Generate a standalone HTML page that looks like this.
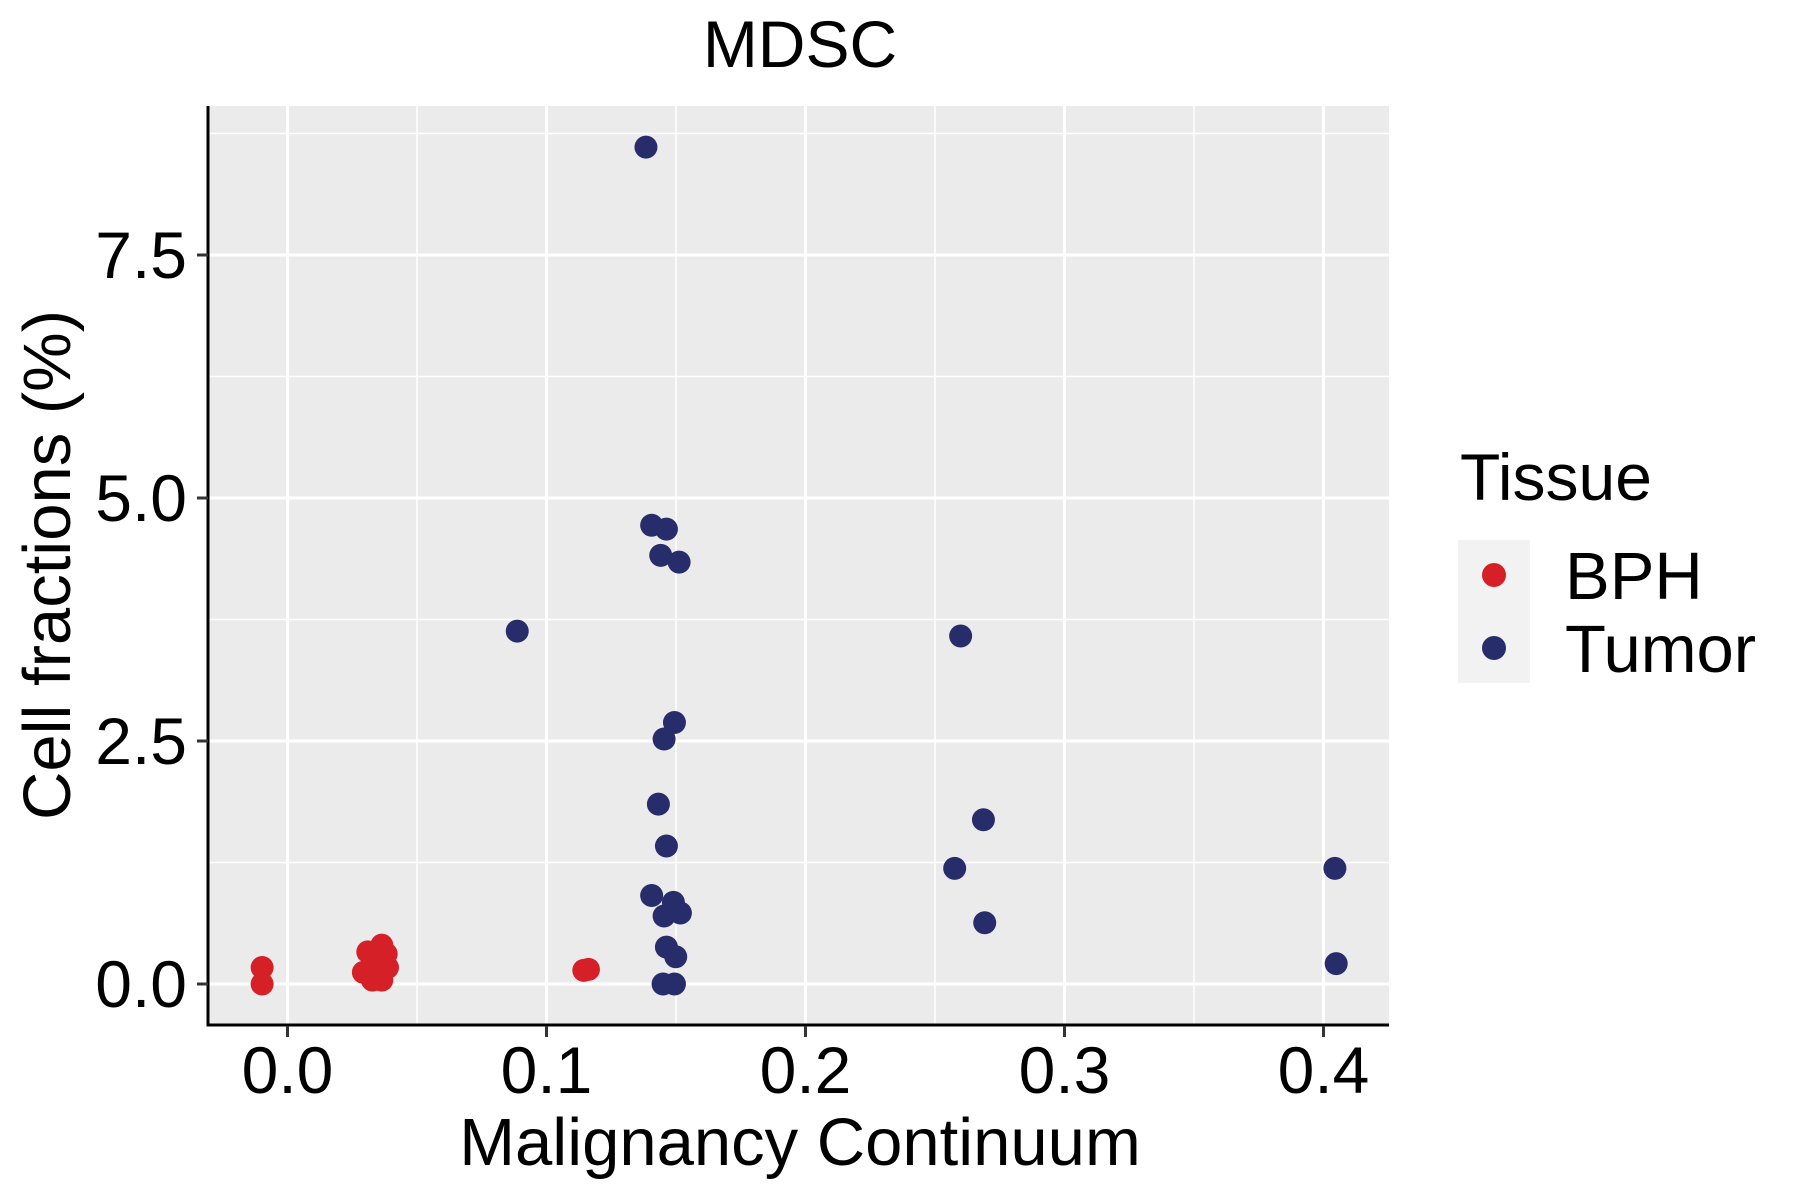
<!DOCTYPE html>
<html><head><meta charset="utf-8"><style>
html,body{margin:0;padding:0;background:#fff;}
svg{display:block;font-family:"Liberation Sans",sans-serif;}
</style></head><body>
<svg id="chart" width="1800" height="1200" viewBox="0 0 1800 1200">
<text x="800" y="67" font-size="66" text-anchor="middle">MDSC</text>
<rect x="208" y="106" width="1181" height="919" fill="#EBEBEB"/>
<g id="grid"></g>
<g id="points"></g>
<line x1="208" y1="106" x2="208" y2="1026" stroke="#000" stroke-width="3"/>
<line x1="206.5" y1="1025" x2="1389" y2="1025" stroke="#000" stroke-width="3"/>
<g id="ticks"></g>
<text x="800" y="1165" font-size="67" text-anchor="middle">Malignancy Continuum</text>
<text transform="translate(70,565) rotate(-90)" font-size="67" text-anchor="middle">Cell fractions (%)</text>
<g>
<text x="1460" y="500" font-size="66">Tissue</text>
<rect x="1458" y="540" width="72" height="143" fill="#F2F2F2"/>
<circle cx="1494" cy="575" r="12" fill="#D62027"/>
<circle cx="1494" cy="648" r="12" fill="#272D6B"/>
<text x="1565" y="599" font-size="67">BPH</text>
<text x="1565" y="672" font-size="67">Tumor</text>
</g>
</svg>
<script>
const xTicks = [0.0, 0.1, 0.2, 0.3, 0.4];
const xTickLabels = ["0.0", "0.1", "0.2", "0.3", "0.4"];
const yTicks = [0, 2.5, 5, 7.5];
const yTickLabels = ["0.0", "2.5", "5.0", "7.5"];
const bphX = [-0.0098, -0.0098, 0.031, 0.0364, 0.0381, 0.0293, 0.0386, 0.0328, 0.0364, 0.0346, 0.1144, 0.1162];
const bphY = [0.17, 0.0, 0.33, 0.40, 0.31, 0.12, 0.17, 0.04, 0.04, 0.24, 0.14, 0.15];
const tumorX = [0.1384, 0.1406, 0.1463, 0.1441, 0.1512, 0.0887, 0.2599, 0.1494, 0.1454, 0.1432, 0.2687, 0.1463, 0.2576, 0.4044, 0.1406, 0.1490, 0.1517, 0.1454, 0.2692, 0.1463, 0.1499, 0.1450, 0.1494, 0.4049];
const tumorY = [8.61, 4.72, 4.68, 4.41, 4.34, 3.63, 3.58, 2.69, 2.52, 1.85, 1.69, 1.42, 1.19, 1.19, 0.91, 0.84, 0.73, 0.70, 0.63, 0.38, 0.28, 0.0, 0.0, 0.21];

const NS = "http://www.w3.org/2000/svg";
function sx(v){ return 287.5 + v * 2590; }
function sy(v){ return 984 - v * 97.2; }
function mk(tag, attrs, parent){
  const e = document.createElementNS(NS, tag);
  for (const k in attrs) e.setAttribute(k, attrs[k]);
  parent.appendChild(e);
  return e;
}
const grid = document.getElementById('grid');
const ticks = document.getElementById('ticks');
const pts = document.getElementById('points');
for (let i = 0; i < xTicks.length - 1; i++) {
  const m = (xTicks[i] + xTicks[i+1]) / 2;
  const l = mk('line', {x1: sx(m), x2: sx(m), y1: 106, y2: 1025, stroke: '#fff', 'stroke-width': 1.5}, grid);
  
  
}
for (let i = 0; i < yTicks.length; i++) {
  const m = yTicks[i] + 1.25;
  const l = mk('line', {x1: 208, x2: 1389, y1: sy(m), y2: sy(m), stroke: '#fff', 'stroke-width': 1.5}, grid);
  
  
}
xTicks.forEach((v, i) => {
  const g = mk('line', {x1: sx(v), x2: sx(v), y1: 106, y2: 1025, stroke: '#fff', 'stroke-width': 3}, grid);
  
  
  const t = mk('line', {x1: sx(v), x2: sx(v), y1: 1026, y2: 1037, stroke: '#333', 'stroke-width': 3}, ticks);
  
  
  const tx = mk('text', {x: sx(v), y: 1093, 'font-size': 66, 'text-anchor': 'middle', fill: '#000'}, ticks);
  tx.textContent = xTickLabels[i];
  
  
});
yTicks.forEach((v, i) => {
  const g = mk('line', {x1: 208, x2: 1389, y1: sy(v), y2: sy(v), stroke: '#fff', 'stroke-width': 3}, grid);
  
  
  const t = mk('line', {x1: 197, x2: 208, y1: sy(v), y2: sy(v), stroke: '#333', 'stroke-width': 3}, ticks);
  
  
  const tx = mk('text', {x: 187, y: sy(v) + 23, 'font-size': 66, 'text-anchor': 'end', fill: '#000'}, ticks);
  tx.textContent = yTickLabels[i];
  
  
});
bphX.forEach((v, i) => {
  const c = mk('circle', {cx: sx(v), cy: sy(bphY[i]), r: 11.5, fill: '#D62027'}, pts);
  
  
});
tumorX.forEach((v, i) => {
  const c = mk('circle', {cx: sx(v), cy: sy(tumorY[i]), r: 11.5, fill: '#272D6B'}, pts);
  
  
});
</script>
</body></html>
